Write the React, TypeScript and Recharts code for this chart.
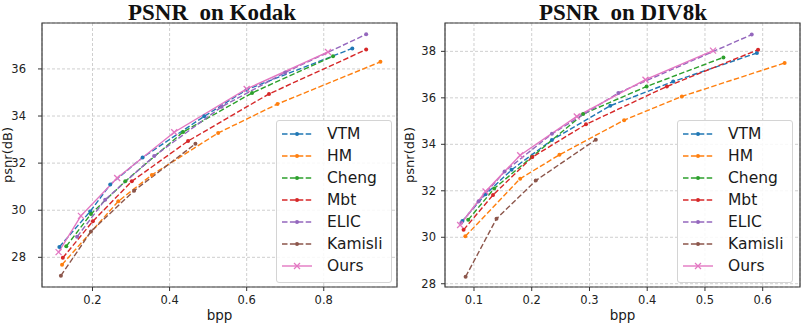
import React from 'react'
import { LineChart, Line, XAxis, YAxis, CartesianGrid, Legend, ReferenceArea } from 'recharts'

// Kodak
const kodakVtmBpp = [0.114, 0.194, 0.246, 0.33, 0.49, 0.6, 0.874]
const kodakVtmPsnr = [28.44, 29.95, 31.09, 32.24, 33.99, 35.12, 36.87]
const kodakHmBpp = [0.121, 0.267, 0.354, 0.526, 0.68, 0.947]
const kodakHmPsnr = [27.69, 30.38, 31.5, 33.28, 34.51, 36.3]
const kodakChengBpp = [0.132, 0.196, 0.285, 0.435, 0.614, 0.824]
const kodakChengPsnr = [28.47, 29.84, 31.23, 33.32, 34.98, 36.54]
const kodakMbtBpp = [0.123, 0.201, 0.302, 0.448, 0.658, 0.91]
const kodakMbtPsnr = [27.98, 29.53, 31.23, 32.94, 34.94, 36.82]
const kodakElicBpp = [0.16, 0.233, 0.36, 0.535, 0.7, 0.91]
const kodakElicPsnr = [28.87, 30.45, 32.3, 34.39, 35.85, 37.47]
const kodakKamisliBpp = [0.118, 0.196, 0.308, 0.467]
const kodakKamisliPsnr = [27.22, 29.1, 30.83, 32.82]
const kodakOursBpp = [0.112, 0.17, 0.264, 0.412, 0.6, 0.811]
const kodakOursPsnr = [28.22, 29.76, 31.37, 33.31, 35.15, 36.72]

// DIV8k
const divVtmBpp = [0.08, 0.12, 0.165, 0.235, 0.336, 0.445, 0.59]
const divVtmPsnr = [30.7, 31.85, 32.9, 34.19, 35.66, 36.7, 37.93]
const divHmBpp = [0.085, 0.18, 0.248, 0.36, 0.46, 0.638]
const divHmPsnr = [30.04, 32.52, 33.55, 35.04, 36.06, 37.5]
const divChengBpp = [0.09, 0.135, 0.2, 0.289, 0.399, 0.532]
const divChengPsnr = [30.75, 32.1, 33.45, 35.3, 36.49, 37.74]
const divMbtBpp = [0.082, 0.133, 0.201, 0.294, 0.434, 0.592]
const divMbtPsnr = [30.32, 31.82, 33.45, 34.86, 36.49, 38.07]
const divElicBpp = [0.078, 0.108, 0.153, 0.235, 0.35, 0.581]
const divElicPsnr = [30.62, 31.55, 32.83, 34.45, 36.21, 38.72]
const divKamisliBpp = [0.0855, 0.139, 0.207, 0.311]
const divKamisliPsnr = [28.3, 30.8, 32.44, 34.2]
const divOursBpp = [0.076, 0.12, 0.18, 0.278, 0.397, 0.514]
const divOursPsnr = [30.53, 31.97, 33.53, 35.2, 36.78, 38.03]

const kodakXTicks = [0.2, 0.4, 0.6, 0.8]
const kodakYTicks = [28, 30, 32, 34, 36]
const divXTicks = [0.1, 0.2, 0.3, 0.4, 0.5, 0.6]
const divYTicks = [28, 30, 32, 34, 36, 38]

const names = ['VTM', 'HM', 'Cheng', 'Mbt', 'ELIC', 'Kamisli', 'Ours']
const colors = ['#1f77b4', '#ff7f0e', '#2ca02c', '#d62728', '#9467bd', '#8c564b', '#e377c2']

const zip = (xs: number[], ys: number[]) => xs.map((bpp, i) => ({ bpp, psnr: ys[i] }))

const kodakSeries = [
  zip(kodakVtmBpp, kodakVtmPsnr),
  zip(kodakHmBpp, kodakHmPsnr),
  zip(kodakChengBpp, kodakChengPsnr),
  zip(kodakMbtBpp, kodakMbtPsnr),
  zip(kodakElicBpp, kodakElicPsnr),
  zip(kodakKamisliBpp, kodakKamisliPsnr),
  zip(kodakOursBpp, kodakOursPsnr),
]
const divSeries = [
  zip(divVtmBpp, divVtmPsnr),
  zip(divHmBpp, divHmPsnr),
  zip(divChengBpp, divChengPsnr),
  zip(divMbtBpp, divMbtPsnr),
  zip(divElicBpp, divElicPsnr),
  zip(divKamisliBpp, divKamisliPsnr),
  zip(divOursBpp, divOursPsnr),
]

const DASH = '5.5 2.4'
const tickStyle = { fontSize: 11.5, fill: '#222', fontFamily: 'DejaVu Sans' }

function XMark({ cx, cy, color }: { cx: number; cy: number; color: string }) {
  return (
    <g stroke={color} strokeWidth={1.3}>
      <line x1={cx - 3} y1={cy - 3} x2={cx + 3} y2={cy + 3} />
      <line x1={cx - 3} y1={cy + 3} x2={cx + 3} y2={cy - 3} />
    </g>
  )
}

function LegendBox({ payload }: any) {
  // keep the plotting order, not alphabetical
  const items = [...(payload || [])].sort((a: any, b: any) => names.indexOf(a.value) - names.indexOf(b.value))
  return (
    <div
      style={{
        width: 114,
        height: 159,
        border: '1px solid #d4d4d4',
        borderRadius: 3,
        background: 'rgba(255,255,255,0.85)',
        paddingTop: 2,
        boxSizing: 'content-box',
      }}
    >
      {items.map((p: any) => {
        const ours = p.value === 'Ours'
        return (
          <div key={p.value} style={{ display: 'flex', alignItems: 'center', height: 22 }}>
            <svg width={36} height={10} style={{ marginLeft: 4 }}>
              <line x1={1} y1={5} x2={31} y2={5} stroke={p.color} strokeWidth={1.4} strokeDasharray={ours ? undefined : DASH} />
              {ours ? <XMark cx={16} cy={5} color={p.color} /> : <circle cx={16} cy={5} r={2} fill={p.color} />}
            </svg>
            <span style={{ marginLeft: 10, fontSize: 15.5, color: '#1a1a1a', fontFamily: 'DejaVu Sans' }}>{p.value}</span>
          </div>
        )
      })}
    </div>
  )
}

type PanelProps = {
  series: { bpp: number; psnr: number }[][]
  width: number
  yAxisWidth: number
  tickMargin: number
  labelOffset: number
  xDomain: [number, number]
  yDomain: [number, number]
  xTicks: number[]
  yTicks: number[]
  legendLeft: number
}

function Panel(props: PanelProps) {
  const { series, width, yAxisWidth, tickMargin, labelOffset, xDomain, yDomain, xTicks, yTicks, legendLeft } = props
  return (
    <LineChart width={width} height={327} margin={{ top: 23, right: width - yAxisWidth - 355, bottom: 4, left: 0 }}>
      <CartesianGrid stroke="#cfcfcf" strokeDasharray="3 2" />
      <XAxis
        dataKey="bpp"
        type="number"
        domain={xDomain}
        ticks={xTicks}
        allowDataOverflow
        height={36}
        tickSize={4}
        tickMargin={5}
        tick={tickStyle}
        axisLine={false}
        tickLine={{ stroke: '#333' }}
        tickFormatter={(v: number) => v.toFixed(1)}
        label={{ value: 'bpp', position: 'insideBottom', offset: 3, style: { fontSize: 13.5, fill: '#1a1a1a' } }}
      />
      <YAxis
        type="number"
        domain={yDomain}
        ticks={yTicks}
        allowDataOverflow
        width={yAxisWidth}
        tickSize={4}
        tickMargin={tickMargin}
        tick={tickStyle}
        axisLine={false}
        tickLine={{ stroke: '#333' }}
        label={{
          value: 'psnr(dB)',
          angle: -90,
          position: 'insideLeft',
          offset: labelOffset,
          style: { fontSize: 13, fill: '#1a1a1a', textAnchor: 'middle' },
        }}
      />
      <ReferenceArea
        x1={xDomain[0]}
        x2={xDomain[1]}
        y1={yDomain[0]}
        y2={yDomain[1]}
        fill="none"
        fillOpacity={0}
        stroke="#3a3a3a"
        strokeWidth={1.2}
        ifOverflow="visible"
      />
      {series.map((data, i) => {
        const ours = names[i] === 'Ours'
        return (
          <Line
            key={names[i]}
            data={data}
            dataKey="psnr"
            name={names[i]}
            stroke={colors[i]}
            strokeWidth={1.4}
            strokeDasharray={ours ? undefined : DASH}
            isAnimationActive={false}
            dot={(p: any) =>
              ours ? (
                <XMark key={`${names[i]}-${p.index}`} cx={p.cx} cy={p.cy} color={colors[i]} />
              ) : (
                <circle key={`${names[i]}-${p.index}`} cx={p.cx} cy={p.cy} r={2} fill={colors[i]} />
              )
            }
            activeDot={false}
          />
        )
      })}
      <Legend
        layout="vertical"
        align="center"
        verticalAlign="middle"
        wrapperStyle={{ left: legendLeft, top: 120, width: 116 }}
        content={(p: any) => <LegendBox payload={p.payload} />}
      />
    </LineChart>
  )
}

const titleStyle: React.CSSProperties = {
  position: 'absolute',
  top: 0,
  textAlign: 'center',
  fontFamily: 'Liberation Serif',
  fontWeight: 'bold',
  fontSize: 23,
  whiteSpace: 'pre',
  color: '#111',
}

export default function App() {
  return (
    <div style={{ position: 'absolute', left: 0, top: 0, width: 806, height: 327, background: '#fff', fontFamily: 'DejaVu Sans' }}>
      <div style={{ ...titleStyle, left: 0, width: 424 }}>PSNR  on Kodak</div>
      <div style={{ ...titleStyle, left: 400, width: 446 }}>PSNR  on DIV8k</div>
      <div style={{ position: 'absolute', left: 0, top: 0 }}>
        <Panel
          series={kodakSeries}
          width={400}
          yAxisWidth={42}
          tickMargin={12}
          labelOffset={7}
          xDomain={[0.069, 0.99]}
          yDomain={[26.74, 37.95]}
          xTicks={kodakXTicks}
          yTicks={kodakYTicks}
          legendLeft={276}
        />
      </div>
      <div style={{ position: 'absolute', left: 400, top: 0 }}>
        <Panel
          series={divSeries}
          width={406}
          yAxisWidth={45}
          tickMargin={5}
          labelOffset={9}
          xDomain={[0.0498, 0.6646]}
          yDomain={[27.86, 39.22]}
          xTicks={divXTicks}
          yTicks={divYTicks}
          legendLeft={277}
        />
      </div>
    </div>
  )
}
